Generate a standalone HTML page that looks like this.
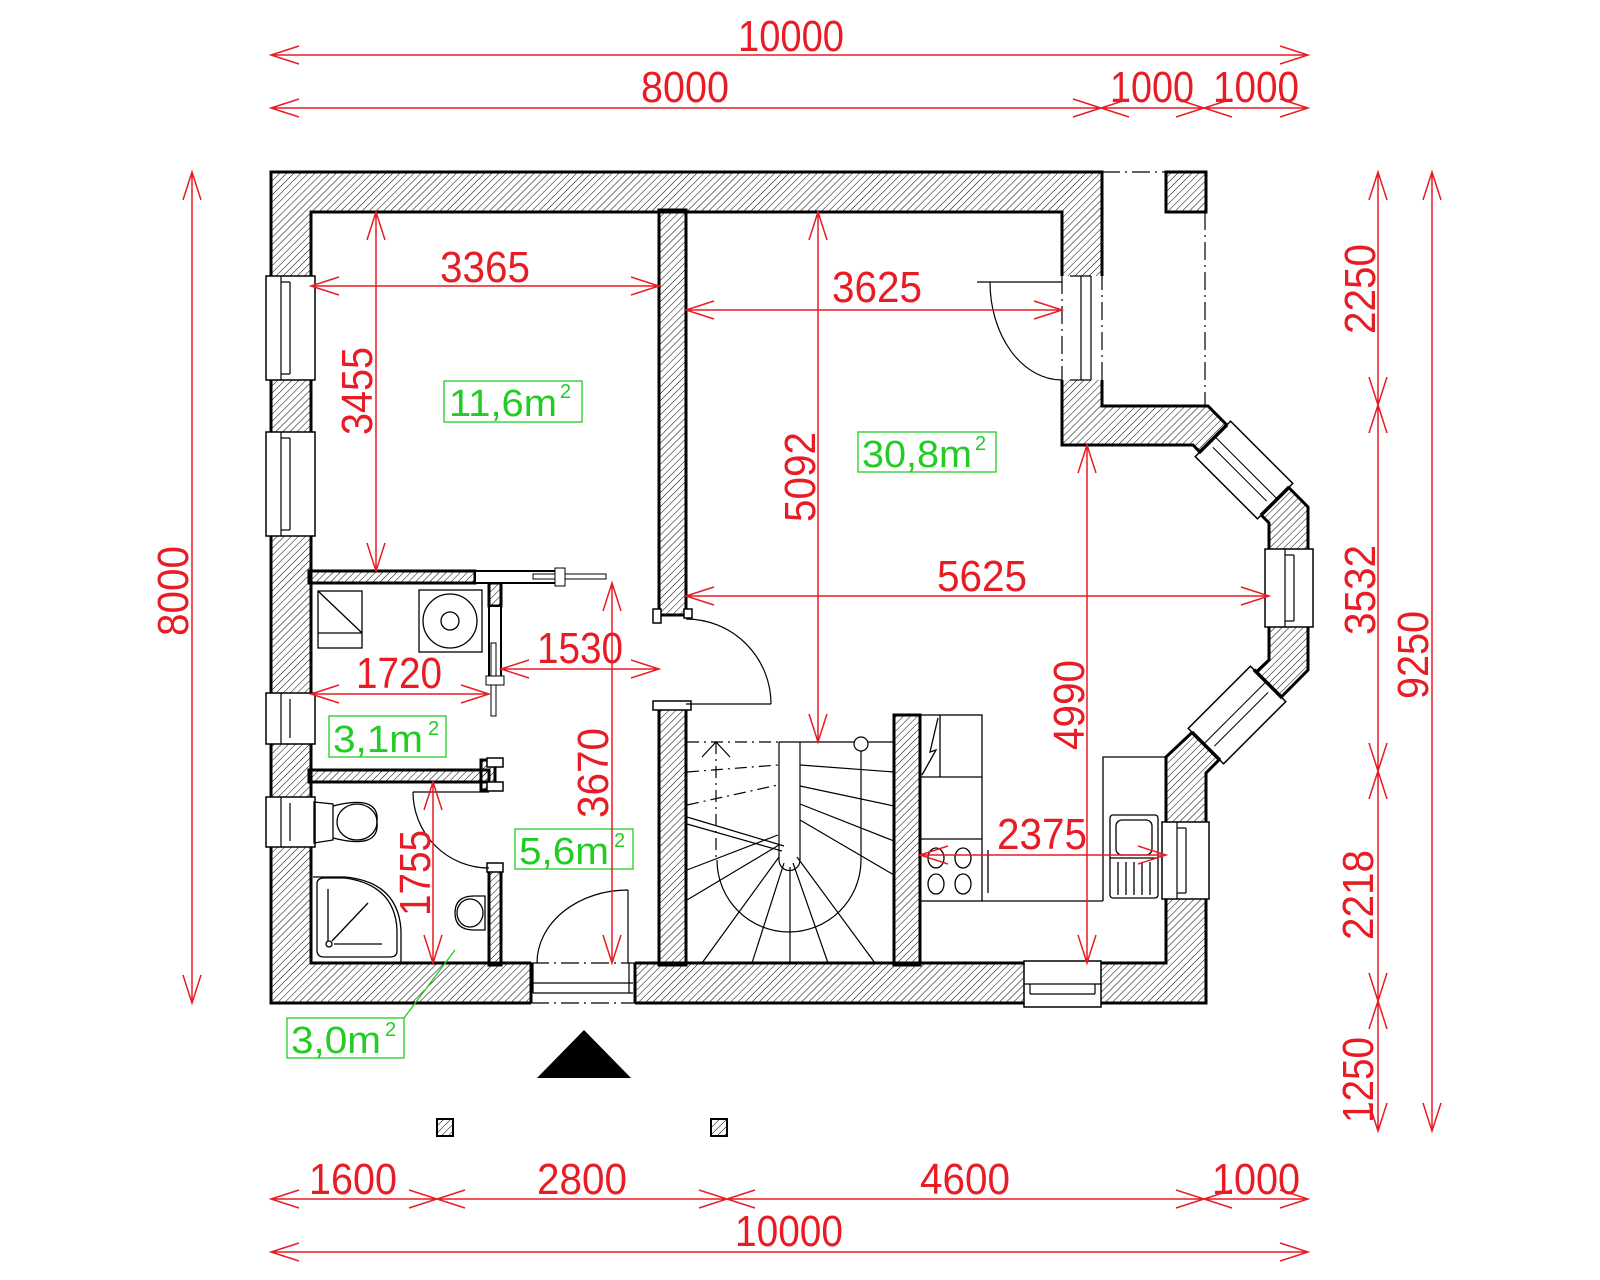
<!DOCTYPE html>
<html><head><meta charset="utf-8"><style>
html,body{margin:0;padding:0;background:#fff;}
svg{display:block}
.r{fill:#e81c24;font-family:"Liberation Sans",sans-serif;font-size:44px;text-anchor:middle}
.g{fill:#22cc22;font-family:"Liberation Sans",sans-serif;font-size:38px}
.gs{fill:#22cc22;font-family:"Liberation Sans",sans-serif;font-size:20px}
</style></head><body>
<svg width="1600" height="1280" viewBox="0 0 1600 1280" xmlns="http://www.w3.org/2000/svg">
<defs>
<pattern id="h" width="5" height="5" patternUnits="userSpaceOnUse" patternTransform="rotate(45)">
<line x1="0" y1="0" x2="0" y2="5" stroke="#000" stroke-width="1"/>
</pattern>
</defs>
<rect width="1600" height="1280" fill="#fff"/>

<!-- outer walls ring -->
<path fill="url(#h)" fill-rule="evenodd" stroke="#000" stroke-width="3"
d="M271,172 L1102,172 L1102,406 L1208,406 L1308,507 L1308,670 L1206,773 L1206,1003 L271,1003 Z
M311,212 L1062,212 L1062,445 L1193,445 L1269,523 L1269,660 L1166,757 L1166,963 L311,963 Z"/>
<!-- pillar -->
<rect x="1166" y="172" width="40" height="40" fill="url(#h)" stroke="#000" stroke-width="3"/>
<g stroke="#000" stroke-width="1.2" fill="none" stroke-dasharray="18,5,2,5">
<line x1="1102" y1="172" x2="1166" y2="172"/>
<line x1="1205" y1="212" x2="1205" y2="406"/>
</g>

<!-- interior walls -->
<g fill="url(#h)" stroke="#000" stroke-width="3">
<rect x="659" y="210" width="27" height="405"/>
<rect x="659" y="709" width="27" height="256"/>
<rect x="894" y="715" width="26" height="250"/>
<rect x="309" y="571" width="166" height="12"/>
<rect x="489" y="583" width="12" height="23"/>
<rect x="309" y="770" width="180" height="12"/>
<rect x="489" y="870" width="12" height="95"/>
<rect x="481" y="760" width="14" height="30"/>
</g>
<g fill="#fff" stroke="#000" stroke-width="1.5">
<rect x="653" y="609" width="8" height="14"/>
<rect x="653" y="701" width="38" height="9"/>
<rect x="684" y="609" width="8" height="9"/>
<rect x="487" y="863" width="16" height="9"/>
<rect x="487" y="758" width="16" height="9"/>
<rect x="487" y="782" width="16" height="9"/>
</g>

<!-- sliding door top of laundry -->
<rect x="475" y="571" width="88" height="12" fill="#fff" stroke="#000" stroke-width="2"/>
<rect x="533" y="574" width="73" height="5" fill="#fff" stroke="#000" stroke-width="1"/>
<rect x="555" y="568" width="10" height="18" fill="#fff" stroke="#000" stroke-width="1"/>
<!-- sliding door laundry vertical -->
<rect x="489" y="606" width="12" height="74" fill="#fff" stroke="#000" stroke-width="2"/>
<rect x="491" y="643" width="5" height="73" fill="#fff" stroke="#000" stroke-width="1"/>
<rect x="486" y="676" width="18" height="9" fill="#fff" stroke="#000" stroke-width="1"/>

<!-- left windows -->
<g fill="#fff" stroke="#000" stroke-width="1.5">
<rect x="266" y="276" width="49" height="104"/>
<rect x="266" y="432" width="49" height="104"/>
<rect x="266" y="693" width="49" height="51"/>
<rect x="266" y="797" width="49" height="50"/>
</g>
<g stroke="#000" stroke-width="1.2">
<line x1="281" y1="276" x2="281" y2="380"/><line x1="290" y1="282" x2="290" y2="374"/>
<line x1="281" y1="282" x2="290" y2="282"/><line x1="281" y1="374" x2="290" y2="374"/>
<line x1="281" y1="432" x2="281" y2="536"/><line x1="290" y1="438" x2="290" y2="530"/>
<line x1="281" y1="438" x2="290" y2="438"/><line x1="281" y1="530" x2="290" y2="530"/>
<line x1="281" y1="693" x2="281" y2="744"/><line x1="290" y1="699" x2="290" y2="738"/>
<line x1="281" y1="797" x2="281" y2="847"/><line x1="290" y1="803" x2="290" y2="841"/>
</g>

<!-- top right door opening -->
<rect x="1060" y="276" width="44" height="104" fill="#fff"/>
<g stroke="#000" stroke-width="1.2" fill="none">
<line x1="1081" y1="276" x2="1081" y2="380"/><line x1="1091" y1="276" x2="1091" y2="380"/>
<line x1="1070" y1="276" x2="1091" y2="276"/><line x1="1070" y1="380" x2="1091" y2="380"/>
<line x1="1062" y1="276" x2="1062" y2="380" stroke-dasharray="18,5,2,5"/>
<line x1="1102" y1="212" x2="1102" y2="406" stroke-dasharray="18,5,2,5"/>
<line x1="977" y1="282" x2="1062" y2="282"/>
<path d="M990,282 A72,98 0 0 0 1062,380"/>
</g>

<!-- right bay windows -->
<rect x="1265" y="549" width="48" height="78" fill="#fff" stroke="#000" stroke-width="1.5"/>
<g stroke="#000" stroke-width="1.2">
<line x1="1285" y1="549" x2="1285" y2="627"/><line x1="1294" y1="555" x2="1294" y2="621"/>
<line x1="1285" y1="555" x2="1294" y2="555"/><line x1="1285" y1="621" x2="1294" y2="621"/>
</g>
<g transform="translate(1244,470) rotate(45)">
<rect x="-44" y="-25" width="88" height="50" fill="#fff" stroke="#000" stroke-width="1.5"/>
<line x1="-44" y1="-3" x2="44" y2="-3" stroke="#000"/><line x1="-38" y1="6" x2="38" y2="6" stroke="#000"/>
<line x1="-44" y1="-20" x2="-44" y2="20" stroke="#000" stroke-width="3.5"/><line x1="44" y1="-20" x2="44" y2="20" stroke="#000" stroke-width="3.5"/>
</g>
<g transform="translate(1237,715) rotate(-45)">
<rect x="-44" y="-25" width="88" height="50" fill="#fff" stroke="#000" stroke-width="1.5"/>
<line x1="-44" y1="-3" x2="44" y2="-3" stroke="#000"/><line x1="-38" y1="6" x2="38" y2="6" stroke="#000"/>
<line x1="-44" y1="-20" x2="-44" y2="20" stroke="#000" stroke-width="3.5"/><line x1="44" y1="-20" x2="44" y2="20" stroke="#000" stroke-width="3.5"/>
</g>

<!-- kitchen right window -->
<rect x="1162" y="822" width="47" height="77" fill="#fff" stroke="#000" stroke-width="1.5"/>
<g stroke="#000" stroke-width="1.2">
<line x1="1177" y1="822" x2="1177" y2="899"/><line x1="1186" y1="828" x2="1186" y2="893"/>
<line x1="1177" y1="828" x2="1186" y2="828"/><line x1="1177" y1="893" x2="1186" y2="893"/>
</g>
<!-- bottom window -->
<rect x="1024" y="961" width="77" height="46" fill="#fff" stroke="#000" stroke-width="1.5"/>
<g stroke="#000" stroke-width="1.2">
<line x1="1024" y1="984" x2="1101" y2="984"/><line x1="1030" y1="994" x2="1095" y2="994"/>
<line x1="1030" y1="984" x2="1030" y2="994"/><line x1="1095" y1="984" x2="1095" y2="994"/>
</g>

<!-- entry door -->
<rect x="531" y="961" width="104" height="44" fill="#fff"/>
<g stroke="#000" stroke-width="1.2" fill="none">
<line x1="531" y1="963" x2="635" y2="963" stroke-dasharray="18,5,2,5"/>
<line x1="531" y1="1003" x2="635" y2="1003" stroke-dasharray="18,5,2,5"/>
<line x1="533" y1="983" x2="633" y2="983"/><line x1="533" y1="993" x2="633" y2="993"/>
<line x1="533" y1="963" x2="533" y2="993"/><line x1="629" y1="963" x2="629" y2="993"/>
<line x1="628" y1="890" x2="628" y2="963"/>
<path d="M628,890 A91,73 0 0 0 537,963"/>
</g>
<line x1="531" y1="963" x2="531" y2="1003" stroke="#000" stroke-width="3"/>
<line x1="635" y1="963" x2="635" y2="1003" stroke="#000" stroke-width="3"/>

<!-- hall door -->
<g stroke="#000" stroke-width="1.2" fill="none">
<line x1="686" y1="704" x2="771" y2="704"/>
<path d="M771,704 A85,85 0 0 0 686,619"/>
<!-- WC door -->
<line x1="413" y1="792" x2="489" y2="792"/>
<path d="M413,792 A76,76 0 0 0 489,868"/>
</g>

<!-- stairs -->
<g stroke="#000" stroke-width="1.2" fill="none">
<line x1="779" y1="742" x2="894" y2="742"/>
<line x1="687" y1="742" x2="779" y2="742" stroke-dasharray="12,5,2,5"/>
<line x1="716" y1="742" x2="716" y2="860" stroke-dasharray="12,5,2,5"/>
<line x1="687" y1="772" x2="778" y2="765" stroke-dasharray="12,5,2,5"/>
<line x1="687" y1="805" x2="778" y2="785" stroke-dasharray="12,5,2,5"/>
<path d="M702,757 L716,742 L730,757"/>
<path d="M779,742 L779,860 A10.5,10.5 0 0 0 800,860 L800,742"/>
<path d="M717,860 A72,72 0 0 0 861,860"/>
<line x1="861" y1="751" x2="861" y2="860"/>
<circle cx="861" cy="744" r="7" fill="#fff"/>
<line x1="800" y1="765" x2="894" y2="772"/>
<line x1="800" y1="786" x2="894" y2="806"/>
<line x1="800" y1="804" x2="894" y2="841"/>
<line x1="800" y1="820" x2="894" y2="875"/>
<line x1="797" y1="857" x2="875" y2="963"/>
<line x1="793" y1="863" x2="828" y2="963"/>
<line x1="790" y1="867" x2="790" y2="963"/>
<line x1="784" y1="863" x2="752" y2="963"/>
<line x1="779" y1="857" x2="702" y2="963"/>
<line x1="779" y1="845" x2="687" y2="900"/>
<line x1="778" y1="835" x2="687" y2="870"/>
<line x1="687" y1="817" x2="784" y2="846"/>
<line x1="687" y1="824" x2="782" y2="851"/>
</g>

<!-- kitchen -->
<g stroke="#000" stroke-width="1.3" fill="none">
<rect x="920" y="715" width="62" height="186"/>
<line x1="920" y1="777" x2="982" y2="777"/>
<line x1="920" y1="839" x2="982" y2="839"/>
<line x1="940" y1="715" x2="940" y2="777"/>
<path d="M938,718 L930,752 L936,750 L922,775"/>
<line x1="988" y1="850" x2="988" y2="893"/>
<line x1="982" y1="901" x2="1103" y2="901"/>
<path d="M1103,901 L1103,757 L1166,757"/>
<ellipse cx="936" cy="858" rx="8" ry="10"/><ellipse cx="963" cy="858" rx="8" ry="10"/>
<ellipse cx="936" cy="884" rx="8" ry="10"/><ellipse cx="963" cy="884" rx="8" ry="10"/>
<rect x="1110" y="815" width="48" height="83" rx="3"/>
<rect x="1116" y="820" width="36" height="35" rx="6"/>
<line x1="1110" y1="858" x2="1158" y2="858"/>
<line x1="1118" y1="862" x2="1118" y2="895"/><line x1="1126" y1="862" x2="1126" y2="895"/>
<line x1="1134" y1="862" x2="1134" y2="895"/><line x1="1142" y1="862" x2="1142" y2="895"/>
<line x1="1150" y1="862" x2="1150" y2="895"/>
</g>

<!-- laundry -->
<g stroke="#000" stroke-width="1.3" fill="none">
<rect x="318" y="591" width="44" height="57"/>
<line x1="318" y1="633" x2="362" y2="633"/>
<line x1="318" y1="591" x2="362" y2="633"/>
<rect x="419" y="590" width="63" height="62"/>
<circle cx="450" cy="621" r="27"/>
<circle cx="450" cy="621" r="9"/>
</g>
<!-- WC fixtures -->
<g stroke="#000" stroke-width="1.3" fill="none">
<path d="M314,802 L333,804 L333,840 L314,843 Z"/>
<ellipse cx="357" cy="822" rx="20" ry="18"/>
<path d="M333,806 Q380,794 377,822 Q380,850 333,838"/>
<path d="M317,884 Q317,878 324,878 L345,878 Q395,885 397,930 L397,951 Q397,957 390,957 L324,957 Q317,957 317,950 Z"/>
<path d="M313,877 L345,877 Q398,882 401,930 L401,963"/>
<line x1="328" y1="889" x2="328" y2="941"/>
<line x1="332" y1="941" x2="368" y2="903"/>
<line x1="334" y1="944" x2="382" y2="944"/>
<circle cx="329" cy="944" r="3"/>
<path d="M485,896 L474,896 Q455,896 455,913 Q455,930 474,930 L485,930 Z"/>
<ellipse cx="470" cy="913" rx="13" ry="14"/>
</g>

<!-- entrance triangle and posts -->
<polygon points="584,1030 537,1078 631,1078" fill="#000"/>
<rect x="437" y="1119" width="16" height="17" fill="url(#h)" stroke="#000" stroke-width="2"/>
<rect x="711" y="1119" width="16" height="17" fill="url(#h)" stroke="#000" stroke-width="2"/>

<!-- green labels -->
<g fill="none" stroke="#22cc22" stroke-width="1.3">
<rect x="444" y="381" width="138" height="41"/>
<rect x="858" y="432" width="138" height="40"/>
<rect x="329" y="716" width="117" height="41"/>
<rect x="515" y="829" width="118" height="40"/>
<rect x="287" y="1018" width="117" height="40"/>
<line x1="404" y1="1018" x2="455" y2="950"/>
</g>
<text class="g" x="449" y="416" textLength="108" lengthAdjust="spacingAndGlyphs">11,6m</text><text class="gs" x="560" y="398">2</text>
<text class="g" x="862" y="467" textLength="110" lengthAdjust="spacingAndGlyphs">30,8m</text><text class="gs" x="975" y="450">2</text>
<text class="g" x="333" y="752" textLength="90" lengthAdjust="spacingAndGlyphs">3,1m</text><text class="gs" x="428" y="735">2</text>
<text class="g" x="519" y="864" textLength="90" lengthAdjust="spacingAndGlyphs">5,6m</text><text class="gs" x="614" y="847">2</text>
<text class="g" x="291" y="1053" textLength="90" lengthAdjust="spacingAndGlyphs">3,0m</text><text class="gs" x="385" y="1036">2</text>

<!-- red dimension lines -->
<g stroke="#e81c24" stroke-width="1.5" fill="none">
<!-- top -->
<path d="M271,55 L1308,55 M299,46 L271,55 L299,64 M1280,46 L1308,55 L1280,64"/>
<path d="M271,108 L1308,108 M299,99 L271,108 L299,117 M1280,99 L1308,108 L1280,117
M1073,99 L1101,108 L1073,117 M1129,99 L1101,108 L1129,117
M1176,99 L1204,108 L1176,117 M1232,99 L1204,108 L1232,117"/>
<!-- bottom -->
<path d="M271,1199 L1308,1199 M299,1190 L271,1199 L299,1208 M1280,1190 L1308,1199 L1280,1208
M409,1190 L437,1199 L409,1208 M465,1190 L437,1199 L465,1208
M699,1190 L727,1199 L699,1208 M755,1190 L727,1199 L755,1208
M1176,1190 L1204,1199 L1176,1208 M1232,1190 L1204,1199 L1232,1208"/>
<path d="M271,1252 L1308,1252 M299,1243 L271,1252 L299,1261 M1280,1243 L1308,1252 L1280,1261"/>
<!-- left -->
<path d="M192,172 L192,1003 M183,200 L192,172 L201,200 M183,975 L192,1003 L201,975"/>
<!-- right inner chain -->
<path d="M1378,172 L1378,1131 M1369,200 L1378,172 L1387,200 M1369,1103 L1378,1131 L1387,1103
M1369,377 L1378,405 L1387,377 M1369,433 L1378,405 L1387,433
M1369,743 L1378,771 L1387,743 M1369,799 L1378,771 L1387,799
M1369,973 L1378,1001 L1387,973 M1369,1029 L1378,1001 L1387,1029"/>
<path d="M1432,172 L1432,1131 M1423,200 L1432,172 L1441,200 M1423,1103 L1432,1131 L1441,1103"/>
<!-- interior horizontals -->
<path d="M311,286 L659,286 M339,277 L311,286 L339,295 M631,277 L659,286 L631,295"/>
<path d="M686,310 L1062,310 M714,301 L686,310 L714,319 M1034,301 L1062,310 L1034,319"/>
<path d="M686,596 L1269,596 M714,587 L686,596 L714,605 M1241,587 L1269,596 L1241,605"/>
<path d="M920,855 L1166,855 M948,846 L920,855 L948,864 M1138,846 L1166,855 L1138,864"/>
<path d="M501,669 L659,669 M529,660 L501,669 L529,678 M631,660 L659,669 L631,678"/>
<path d="M311,694 L489,694 M339,685 L311,694 L339,703 M461,685 L489,694 L461,703"/>
<!-- interior verticals -->
<path d="M376,212 L376,571 M367,240 L376,212 L385,240 M367,543 L376,571 L385,543"/>
<path d="M818,212 L818,742 M809,240 L818,212 L827,240 M809,714 L818,742 L827,714"/>
<path d="M1087,445 L1087,963 M1078,473 L1087,445 L1096,473 M1078,935 L1087,963 L1096,935"/>
<path d="M612,583 L612,963 M603,611 L612,583 L621,611 M603,935 L612,963 L621,935"/>
<path d="M433,782 L433,963 M424,810 L433,782 L442,810 M424,935 L433,963 L442,935"/>
</g>

<!-- red texts -->
<g class="r">
<text x="791" y="51" textLength="106" lengthAdjust="spacingAndGlyphs">10000</text>
<text x="685" y="102" textLength="88" lengthAdjust="spacingAndGlyphs">8000</text>
<text x="1152" y="102" textLength="84" lengthAdjust="spacingAndGlyphs">1000</text>
<text x="1256" y="102" textLength="86" lengthAdjust="spacingAndGlyphs">1000</text>
<text x="353" y="1194" textLength="88" lengthAdjust="spacingAndGlyphs">1600</text>
<text x="582" y="1194" textLength="90" lengthAdjust="spacingAndGlyphs">2800</text>
<text x="965" y="1194" textLength="90" lengthAdjust="spacingAndGlyphs">4600</text>
<text x="1256" y="1194" textLength="88" lengthAdjust="spacingAndGlyphs">1000</text>
<text x="789" y="1246" textLength="108" lengthAdjust="spacingAndGlyphs">10000</text>
<text x="485" y="282" textLength="90" lengthAdjust="spacingAndGlyphs">3365</text>
<text x="877" y="302" textLength="90" lengthAdjust="spacingAndGlyphs">3625</text>
<text x="982" y="591" textLength="90" lengthAdjust="spacingAndGlyphs">5625</text>
<text x="1042" y="849" textLength="90" lengthAdjust="spacingAndGlyphs">2375</text>
<text x="580" y="663" textLength="86" lengthAdjust="spacingAndGlyphs">1530</text>
<text x="399" y="688" textLength="86" lengthAdjust="spacingAndGlyphs">1720</text>
<text transform="translate(372,391) rotate(-90)" textLength="88" lengthAdjust="spacingAndGlyphs">3455</text>
<text transform="translate(815,477) rotate(-90)" textLength="90" lengthAdjust="spacingAndGlyphs">5092</text>
<text transform="translate(1084,705) rotate(-90)" textLength="90" lengthAdjust="spacingAndGlyphs">4990</text>
<text transform="translate(608,773) rotate(-90)" textLength="90" lengthAdjust="spacingAndGlyphs">3670</text>
<text transform="translate(430,873) rotate(-90)" textLength="86" lengthAdjust="spacingAndGlyphs">1755</text>
<text transform="translate(188,591) rotate(-90)" textLength="90" lengthAdjust="spacingAndGlyphs">8000</text>
<text transform="translate(1375,289) rotate(-90)" textLength="90" lengthAdjust="spacingAndGlyphs">2250</text>
<text transform="translate(1375,590) rotate(-90)" textLength="90" lengthAdjust="spacingAndGlyphs">3532</text>
<text transform="translate(1373,895) rotate(-90)" textLength="90" lengthAdjust="spacingAndGlyphs">2218</text>
<text transform="translate(1373,1080) rotate(-90)" textLength="86" lengthAdjust="spacingAndGlyphs">1250</text>
<text transform="translate(1428,655) rotate(-90)" textLength="88" lengthAdjust="spacingAndGlyphs">9250</text>
</g>
</svg>
</body></html>
